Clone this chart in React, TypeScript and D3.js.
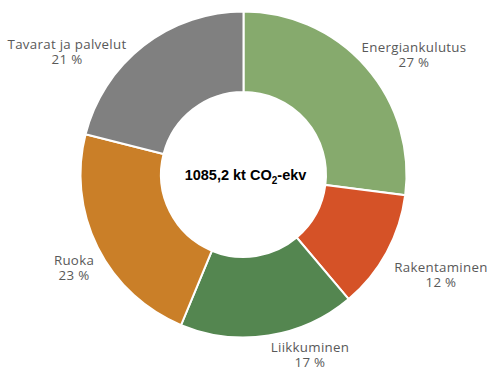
import React from "react";
import * as d3 from "d3";

const categories = ["Energiankulutus", "Rakentaminen", "Liikkuminen", "Ruoka", "Tavarat ja palvelut"];
const values = [27.0, 11.8, 17.4, 22.7, 21.0];
const percentLabels = ["27 %", "12 %", "17 %", "23 %", "21 %"];
const colors = ["#86AA6D", "#D55227", "#548650", "#CA7F28", "#808080"];
const totalLabel = "1085,2 kt CO";
const totalSub = "2";
const totalSuffix = "-ekv";

const W = 496;
const H = 376;
const CX = 243.5;
const CY = 174.5;
const R_OUT = 163;
const R_IN = 82.5;
// label anchor offsets from the chart centre (layout only)
const labelAnchors: [number, number][] = [
  [170.5, -123],
  [197.5, 97],
  [66.5, 177],
  [-169.5, 90],
  [-176.5, -126],
];

export default function App() {
  const pie = d3.pie<number>().sort(null).value((d) => d)(values);
  const arc = d3.arc<d3.PieArcDatum<number>>().innerRadius(R_IN).outerRadius(R_OUT);
  return (
    <svg
      width={W}
      height={H}
      style={{ position: "absolute", left: 0, top: 0, background: "#fff" }}
    >
      <g transform={`translate(${CX},${CY})`}>
        {pie.map((p, i) => (
          <path key={i} d={arc(p) || ""} fill={colors[i]} stroke="#fff" strokeWidth={2} />
        ))}
        {pie.map((p, i) => (
          <g key={"l" + i} fontFamily="'Open Sans', sans-serif" fontSize={13.3} fill="#595959" letterSpacing={0.3} textAnchor="middle">
            <text x={labelAnchors[i][0]} y={labelAnchors[i][1]}>{categories[i]}</text>
            <text x={labelAnchors[i][0]} y={labelAnchors[i][1] + 15.5}>{percentLabels[i]}</text>
          </g>
        ))}
        <text
          x={2}
          y={5.5}
          textAnchor="middle"
          fontFamily="'Liberation Sans', Arial, sans-serif"
          fontWeight="bold"
          fontSize={14.5}
          fill="#000"
        >
          {totalLabel}
          <tspan fontSize={10} dy={4}>{totalSub}</tspan>
          <tspan dy={-4}>{totalSuffix}</tspan>
        </text>
      </g>
    </svg>
  );
}
